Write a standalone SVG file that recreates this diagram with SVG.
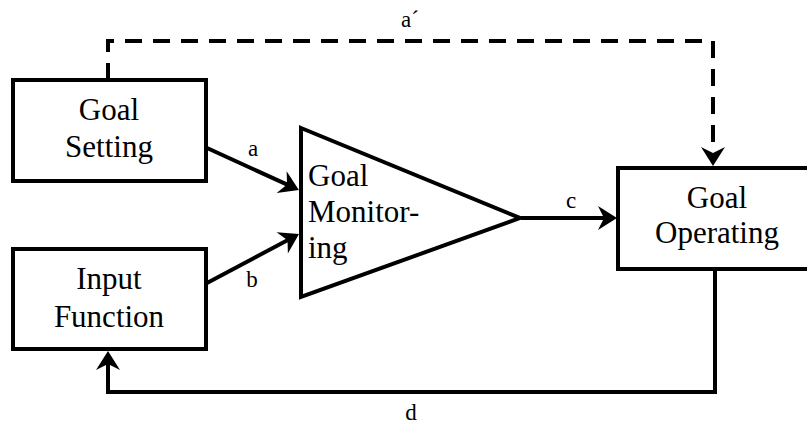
<svg xmlns="http://www.w3.org/2000/svg" width="807" height="429" viewBox="0 0 807 429">
  <style>
    text { font-family: "Liberation Serif", "Times New Roman", serif; fill: #000; }
    .box { fill: #fff; stroke: #000; stroke-width: 4; }
    .node { font-size: 31px; }
    .lbl { font-size: 23px; text-anchor: middle; }
    .conn { fill: none; stroke: #000; stroke-width: 4; }
    .dash { stroke-dasharray: 17 11; }
  </style>
  <defs>
    <marker id="arr" markerUnits="userSpaceOnUse" markerWidth="22" markerHeight="26" refX="8" refY="12" orient="auto" overflow="visible">
      <path d="M0,0 L19,12 L0,24 L6,12 Z" fill="#000"/>
    </marker>
  </defs>
  <rect width="807" height="429" fill="#fff"/>

  <g id="connectors">
    <path class="conn dash" d="M108,80 L108,41 L713,41 L713,155" marker-end="url(#arr)"/>
    <path class="conn" d="M207,148 L288.9,185.4" marker-end="url(#arr)"/>
    <path class="conn" d="M207,283 L289.3,239.2" marker-end="url(#arr)"/>
    <path class="conn" d="M521,218 L606,218" marker-end="url(#arr)"/>
    <path class="conn" d="M715,270 L715,392 L108,392 L108,362" marker-end="url(#arr)"/>
    <text class="lbl" x="410" y="27">a´</text>
    <text class="lbl" x="253" y="156">a</text>
    <text class="lbl" x="252" y="287">b</text>
    <text class="lbl" x="571" y="208">c</text>
    <text class="lbl" x="411" y="420">d</text>
  </g>

  <g id="goal-setting">
    <rect class="box" x="13" y="80" width="193" height="101"/>
    <text class="node" x="109" y="120" text-anchor="middle">Goal</text>
    <text class="node" x="109" y="157" text-anchor="middle">Setting</text>
  </g>

  <g id="input-function">
    <rect class="box" x="13" y="249" width="193" height="100"/>
    <text class="node" x="109" y="289" text-anchor="middle">Input</text>
    <text class="node" x="109" y="327" text-anchor="middle">Function</text>
  </g>

  <g id="goal-monitoring">
    <polygon class="box" points="301,128 520,218 301,297"/>
    <text class="node" x="308" y="186">Goal</text>
    <text class="node" x="308" y="222">Monitor-</text>
    <text class="node" x="308" y="258">ing</text>
  </g>

  <g id="goal-operating">
    <rect class="box" x="618" y="168" width="200" height="101"/>
    <text class="node" x="717" y="208" text-anchor="middle">Goal</text>
    <text class="node" x="717" y="243" text-anchor="middle">Operating</text>
  </g>
</svg>
